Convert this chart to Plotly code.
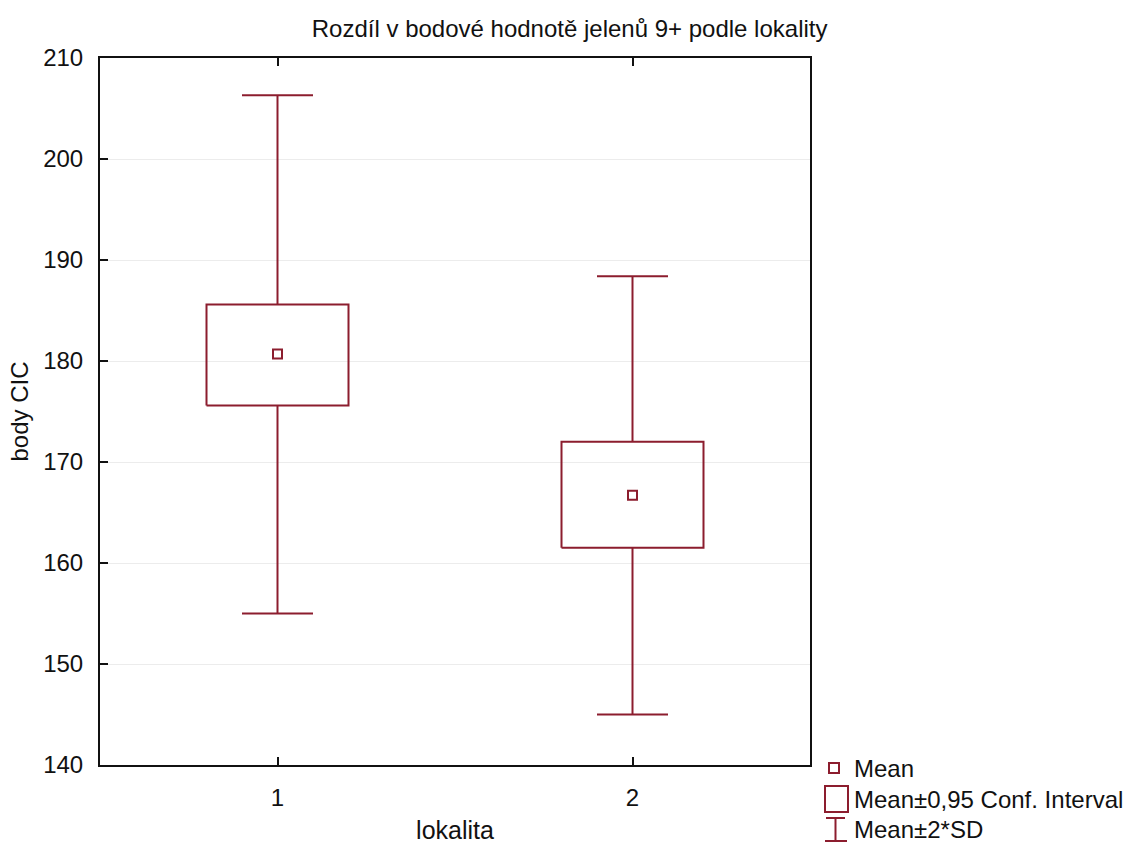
import plotly.graph_objects as go

groups = [1, 2]
means = [180.7, 166.7]
ci_low = [175.6, 161.5]
ci_high = [185.6, 172.0]
sd_low = [155.0, 145.0]
sd_high = [206.3, 188.4]
y_ticks = [140, 150, 160, 170, 180, 190, 200, 210]

RED = "#8c1d2e"
L, R, T, B = 100, 810, 58, 765
W, H = 1128, 844

fig = go.Figure()
bw, cw = 0.2, 0.1
for g, m, lo, hi, wl, wh in zip(groups, means, ci_low, ci_high, sd_low, sd_high):
    fig.add_trace(go.Scatter(
        x=[g, g, None, g, g, None, g - cw, g + cw, None, g - cw, g + cw],
        y=[hi, wh, None, lo, wl, None, wh, wh, None, wl, wl],
        mode="lines", line=dict(color=RED, width=2), showlegend=False, hoverinfo="skip"))
    fig.add_trace(go.Scatter(
        x=[g - bw, g + bw, g + bw, g - bw, g - bw],
        y=[lo, lo, hi, hi, lo],
        mode="lines", line=dict(color=RED, width=2), showlegend=False, hoverinfo="skip"))
fig.add_trace(go.Scatter(
    x=groups, y=means, mode="markers",
    marker=dict(symbol="square-open", size=9, color=RED, line=dict(width=2, color=RED)),
    showlegend=False))

def px(x):
    return (x - L) / (R - L)

def py(y):
    return (B - y) / (B - T)

shapes = []
shapes.append(dict(type="rect", xref="paper", yref="paper",
                   x0=px(829), x1=px(839), y0=py(773), y1=py(763),
                   line=dict(color=RED, width=2)))
shapes.append(dict(type="rect", xref="paper", yref="paper",
                   x0=px(825), x1=px(848), y0=py(812), y1=py(786),
                   line=dict(color=RED, width=2)))
for (x0, y0, x1, y1) in [(826, 818, 845, 818), (835.5, 818, 835.5, 841), (825, 841, 847, 841)]:
    shapes.append(dict(type="line", xref="paper", yref="paper",
                       x0=px(x0), x1=px(x1), y0=py(y0), y1=py(y1),
                       line=dict(color=RED, width=2)))

annotations = []
for txt, yy in [("Mean", 768), ("Mean±0,95 Conf. Interval", 799), ("Mean±2*SD", 829)]:
    annotations.append(dict(text=txt, xref="paper", yref="paper", x=px(852), y=py(yy),
                            xanchor="left", yanchor="middle", showarrow=False,
                            font=dict(size=24, color="#111")))

fig.update_layout(
    width=W, height=H,
    margin=dict(l=L, r=W - R, t=T, b=H - B),
    paper_bgcolor="white", plot_bgcolor="white",
    font=dict(family="Liberation Sans, Arial, sans-serif", size=24, color="#111"),
    title=dict(text="Rozdíl v bodové hodnotě jelenů 9+ podle lokality",
               xref="container", x=0.505, xanchor="center",
               yref="container", y=1 - 29 / H, yanchor="middle",
               font=dict(size=24)),
    shapes=shapes, annotations=annotations,
    showlegend=False,
)
fig.update_xaxes(range=[0.5, 2.5], tickvals=groups, ticktext=[str(g) for g in groups],
                 ticks="inside", ticklen=8, tickwidth=2, tickcolor="#111",
                 showline=True, linecolor="#111", linewidth=2, mirror="ticks",
                 showgrid=False, zeroline=False, automargin=False,
                 ticklabelstandoff=10,
                 title=dict(text="lokalita", standoff=26, font=dict(size=25)),
                 tickfont=dict(size=24))
fig.update_yaxes(range=[140, 210], tickvals=y_ticks,
                 ticks="inside", ticklen=8, tickwidth=2, tickcolor="#111",
                 showline=True, linecolor="#111", linewidth=2, mirror=True,
                 showgrid=True, gridcolor="#ececec", gridwidth=1, zeroline=False,
                 automargin=False, ticklabelstandoff=10,
                 title=dict(text="body CIC", standoff=8, font=dict(size=24)),
                 tickfont=dict(size=24))

fig.write_html("out.html")
